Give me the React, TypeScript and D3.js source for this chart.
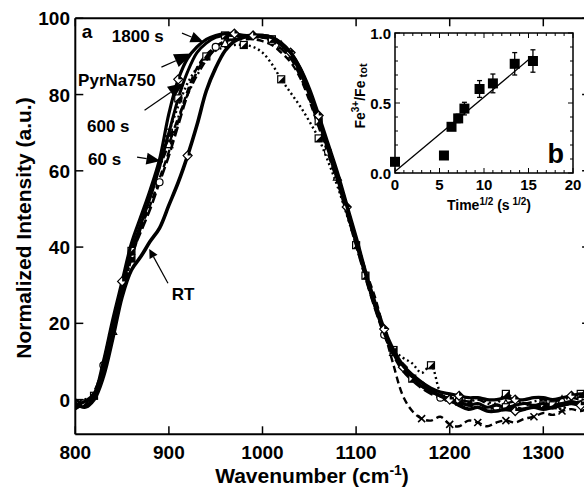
import React from "react";
import * as d3 from "d3";

// ---------- Data (main panel a) ----------
const WAVENUMBERS = [800, 810, 820, 830, 840, 850, 860, 870, 880, 890, 900, 910, 920, 930, 940, 950, 960, 970, 980, 990, 1000, 1010, 1020, 1030, 1040, 1050, 1060, 1070, 1080, 1090, 1100, 1110, 1120, 1130, 1140, 1150, 1160, 1170, 1180, 1190, 1200, 1210, 1220, 1230, 1240, 1250, 1260, 1270, 1280, 1290, 1300, 1310, 1320, 1330, 1340, 1350];

const S1800 = [-1.5, -0.5, 1.5, 10, 21, 31, 41, 48, 55, 63, 75, 84, 89.5, 92.5, 94.5, 95.5, 96, 96, 95.5, 95.5, 95.5, 95, 93.5, 91, 87, 81, 74, 66.5, 59, 50.5, 42, 33, 25, 18, 12.5, 8.5, 6, 4.5, 3, 2, 1.5, 1, 0.5, 0.5, 0, 0, 0.5, 0, 0, 0.5, 0.5, 0, 0.5, 1, 1.5, 1];
const PYRNA750 = [-2, -1, 1, 8, 19, 29, 39, 46, 53, 61, 70, 79, 86, 91, 93.5, 95, 95.5, 95.5, 95.5, 95.5, 95, 94.5, 93, 90.5, 86, 80, 73, 65.5, 58, 49.5, 41, 32.5, 24.5, 17.5, 12, 8, 5.5, 3.5, 2, 1, 0, -0.5, -1.5, -1, -2, -1.5, -2, -1.5, -1, -1.5, -1, -1.5, -1, -0.5, -1, -0.5];
const S600 = [0, -1, 2, 9, 20, 30, 38, 44, 50, 57, 64, 72, 80, 86, 90, 92.5, 94, 94.5, 95, 95.5, 95, 94, 92, 89.5, 85, 79, 72, 65, 57.5, 49, 40.5, 32, 24, 17, 11.5, 7.5, 5, 3, 1.5, 0.5, -0.5, -1, -1.5, -2, -2.5, -2, -2.5, -2, -2.5, -1.5, -2, -1.5, -1.5, -1, -0.5, 0];
const S60 = [-2.5, -1, 0.5, 7, 18, 28, 37, 45, 54, 61, 67, 74, 80, 85, 89, 92, 93.5, 94.5, 95, 95, 95, 94.5, 93, 90, 86, 80.5, 73.5, 66, 58.5, 50, 41.5, 33, 25, 18, 12.5, 8.5, 5.5, 3.5, 2, 1, 0.5, 0, -0.5, 0, -1, -1.5, -1, -0.5, -1, -0.5, 0, -0.5, 0, 0.5, 0, 0.5];
const DOTTED = [-1, 0, 1, 10, 20, 28, 37, 46, 54, 62, 70, 77, 83, 87, 90, 91.5, 92.5, 93, 93, 92.5, 91, 88, 84, 80.5, 77, 73, 68.5, 62.5, 56, 48.5, 40.5, 32, 24.5, 18, 13, 11, 9.5, 7, 9, 2, 0, -1, -0.5, 0.5, -0.5, -1, 1.5, 0, -1, -2, -1.5, -1, -2.5, 0, 1.5, 0.5];
const DASHED = [-2, -1.5, 0, 8, 19, 29, 38, 45, 51, 58, 65, 73, 81, 87, 90.5, 92.5, 94, 94.5, 94.5, 94.5, 94, 93, 91, 88.5, 84.5, 78.5, 71.5, 64.5, 57, 49, 42, 34, 27, 18, 9, 1, -3, -5, -5.5, -4.5, -6.5, -7, -5.5, -6, -7, -6, -5.5, -6, -5, -4.5, -3.5, -4, -3, -2.5, -3, -2];
const RT = [-1, -2, 0, 6, 16, 27, 34, 37.5, 41.5, 45, 51, 57, 64, 72, 81, 87, 91.5, 94, 95, 95.5, 95.5, 95, 93.5, 91, 87, 81.5, 74.5, 67, 59.5, 51, 42.5, 33.5, 25.5, 18.5, 13, 9, 6.5, 4.5, 2.5, 1, 0, -1.5, -2.5, -2, -3, -3, -2.5, -3, -2.5, -2, -2.5, -2, -1.5, -1, -1.5, -1];

const X_TICKS = [800, 900, 1000, 1100, 1200, 1300];
const Y_TICKS = [0, 20, 40, 60, 80, 100];

// ---------- Data (inset b) ----------
const SQRT_TIME = [0, 5.5, 6.35, 7.1, 7.8, 9.5, 11.0, 13.45, 15.5];
const FE3_RATIO = [0.08, 0.125, 0.33, 0.39, 0.46, 0.6, 0.64, 0.78, 0.8];
const FE3_ERR = [0, 0, 0.025, 0.03, 0.045, 0.06, 0.067, 0.08, 0.08];
const FIT_X = [0, 15.5];
const FIT_Y = [0.01, 0.835];
const INSET_X_TICKS = [0, 5, 10, 15, 20];
const INSET_Y_TICKS = [0, 0.5, 1.0];

type Series = { name: string; values: number[]; width: number; dash: string; marker: string; start: number; step: number };

const SERIES: Series[] = [
  { name: "dashed", values: DASHED, width: 2.4, dash: "7,4", marker: "x", start: 37, step: 3 },
  { name: "dotted", values: DOTTED, width: 2.4, dash: "2,3", marker: "halfsq", start: 2, step: 4 },
  { name: "60 s", values: S60, width: 2.4, dash: "8,3,2,3", marker: "tri", start: 4, step: 6 },
  { name: "600 s", values: S600, width: 2.6, dash: "10,4", marker: "circle", start: 3, step: 6 },
  { name: "PyrNa750", values: PYRNA750, width: 3, dash: "", marker: "halfsq", start: 1, step: 5 },
  { name: "1800 s", values: S1800, width: 3.2, dash: "", marker: "diamond", start: 5, step: 6 },
  { name: "RT", values: RT, width: 3.6, dash: "", marker: "diamond", start: 12, step: 7 },
];

// annotations: [label, textW, textV, fromW, fromV, tipW, tipV, headLen, headWidth]
const ANNOTATIONS: [string, number, number, number, number, number, number, number, number][] = [
  ["1800 s", 839, 93.8, 914, 96.1, 937, 93.8, 13, 11],
  ["PyrNa750", 803, 82.2, 892, 87.2, 925, 90.8, 18, 14],
  ["600 s", 812.5, 70.2, 874, 75.9, 916, 83, 16, 13],
  ["60 s", 813.6, 61.5, 866, 63.6, 891, 62.6, 14, 12],
  ["RT", 903, 26, 899, 30.5, 879, 39.5, 9, 9],
];

const FONT = "'Liberation Sans', Arial, Helvetica, sans-serif";

function Marker({ kind, cx, cy }: { kind: string; cx: number; cy: number }) {
  const s = 3.5;
  if (kind === "x") {
    return (
      <g stroke="#000" strokeWidth={1.6}>
        <line x1={cx - s} y1={cy - s} x2={cx + s} y2={cy + s} />
        <line x1={cx - s} y1={cy + s} x2={cx + s} y2={cy - s} />
      </g>
    );
  }
  if (kind === "halfsq") {
    return (
      <g>
        <rect x={cx - s} y={cy - s} width={2 * s} height={2 * s} fill="#fff" stroke="#000" strokeWidth={1.2} />
        <path d={`M${cx + s},${cy - s}L${cx + s},${cy + s}L${cx - s},${cy + s}Z`} fill="#000" />
      </g>
    );
  }
  if (kind === "circle") {
    return <circle cx={cx} cy={cy} r={s} fill="#fff" stroke="#000" strokeWidth={1.2} />;
  }
  if (kind === "tri") {
    return <path d={`M${cx},${cy - s - 0.5}L${cx + s + 0.5},${cy + s}L${cx - s - 0.5},${cy + s}Z`} fill="#fff" stroke="#000" strokeWidth={1.2} />;
  }
  return (
    <g>
      <path d={`M${cx},${cy - s - 1}L${cx + s + 1},${cy}L${cx},${cy + s + 1}L${cx - s - 1},${cy}Z`} fill="#fff" stroke="#000" strokeWidth={1.2} />
      <path d={`M${cx},${cy - s - 1}L${cx + s + 1},${cy}L${cx},${cy}Z`} fill="#000" />
    </g>
  );
}

export default function App() {
  const W = 584;
  const H = 488;
  const x = d3.scaleLinear().domain([800, 1350]).range([75.3, 590.1]);
  const y = d3.scaleLinear().domain([-9.1, 100]).range([434.3, 18.3]);
  const [x0, x1] = x.range();
  const [yb, yt] = y.range();

  const line = d3
    .line<number>()
    .x((_, i) => x(WAVENUMBERS[i]))
    .y((d) => y(d))
    .curve(d3.curveCatmullRom.alpha(0.5));

  const xi = d3.scaleLinear().domain([0, 20]).range([395, 573]);
  const yi = d3.scaleLinear().domain([0, 1]).range([173, 33]);
  const xiMinor = d3.range(0, 21, 1);
  const yiMinor = d3.range(0, 1.0001, 0.1);

  const tickLen = 8;

  return (
    <svg width={W} height={H} style={{ position: "fixed", left: 0, top: 0, background: "#fff" }} fontFamily={FONT}>
      <rect x={0} y={0} width={W} height={H} fill="#fff" />
      <defs>
        <clipPath id="plotclip">
          <rect x={x0} y={yt} width={x1 - x0} height={yb - yt} />
        </clipPath>
      </defs>

      <g clipPath="url(#plotclip)">
        {SERIES.map((s) => (
          <g key={s.name}>
            <path d={line(s.values) || ""} fill="none" stroke="#000" strokeWidth={s.width} strokeDasharray={s.dash || undefined} strokeLinejoin="round" />
            {s.values.map((v, i) =>
              i >= s.start && (i - s.start) % s.step === 0 ? (
                <Marker key={i} kind={s.marker} cx={x(WAVENUMBERS[i])} cy={y(v)} />
              ) : null
            )}
          </g>
        ))}
      </g>

      <g stroke="#000" strokeWidth={2} fill="none">
        <line x1={x0} y1={yt} x2={x1} y2={yt} />
        <line x1={x0} y1={yb} x2={x1} y2={yb} />
        <line x1={x0} y1={yt} x2={x0} y2={yb} />
        <line x1={x1} y1={yt} x2={x1} y2={yb} />
      </g>
      <g stroke="#000" strokeWidth={1.5}>
        {X_TICKS.map((t) => (
          <g key={t}>
            <line x1={x(t)} y1={yb} x2={x(t)} y2={yb - tickLen} />
            <line x1={x(t)} y1={yt} x2={x(t)} y2={yt + tickLen} />
          </g>
        ))}
        {Y_TICKS.map((t) => (
          <g key={t}>
            <line x1={x0} y1={y(t)} x2={x0 + tickLen} y2={y(t)} />
            <line x1={x1} y1={y(t)} x2={x1 - tickLen} y2={y(t)} />
          </g>
        ))}
      </g>
      <g fontSize={19} fontWeight="bold" fill="#000">
        {X_TICKS.map((t) => (
          <text key={t} x={x(t)} y={459} textAnchor="middle">
            {t}
          </text>
        ))}
        {Y_TICKS.map((t) => (
          <text key={t} x={70} y={y(t) + 7} textAnchor="end">
            {t}
          </text>
        ))}
      </g>
      <text x={312} y={483} fontSize={21} fontWeight="bold" textAnchor="middle">
        Wavenumber (cm
        <tspan dy={-8} fontSize={14}>-1</tspan>
        <tspan dy={8}>)</tspan>
      </text>
      <text transform={`translate(31,228) rotate(-90)`} fontSize={21} fontWeight="bold" textAnchor="middle">
        Normalized Intensity (a.u.)
      </text>

      <text x={x(807)} y={y(94.8)} fontSize={19} fontWeight="bold">a</text>

      {ANNOTATIONS.map(([label, tw, tv, fw, fv, pw, pv, hl, hw]) => {
        const sx = x(fw), sy = y(fv), tx = x(pw), ty = y(pv);
        const len = Math.hypot(tx - sx, ty - sy);
        const ux = (tx - sx) / len, uy = (ty - sy) / len;
        const bx = tx - ux * hl, by = ty - uy * hl;
        const nx = -uy, ny = ux;
        return (
          <g key={label}>
            <text x={x(tw)} y={y(tv)} fontSize={17} fontWeight="bold">{label}</text>
            <line x1={sx} y1={sy} x2={bx} y2={by} stroke="#000" strokeWidth={1.2} />
            <path d={`M${tx},${ty}L${bx + (nx * hw) / 2},${by + (ny * hw) / 2}L${bx - (nx * hw) / 2},${by - (ny * hw) / 2}Z`} fill="#000" />
          </g>
        );
      })}

      <rect x={xi(0)} y={yi(1)} width={xi(20) - xi(0)} height={yi(0) - yi(1)} fill="#fff" stroke="#000" strokeWidth={1.5} />
      <g stroke="#000" strokeWidth={1}>
        {xiMinor.map((t) => {
          const L = t % 5 === 0 ? 5 : 3;
          return (
            <g key={t}>
              <line x1={xi(t)} y1={yi(0)} x2={xi(t)} y2={yi(0) - L} />
              <line x1={xi(t)} y1={yi(1)} x2={xi(t)} y2={yi(1) + L} />
            </g>
          );
        })}
        {yiMinor.map((t, k) => {
          const L = k % 5 === 0 ? 5 : 3;
          return (
            <g key={k}>
              <line x1={xi(0)} y1={yi(t)} x2={xi(0) + L} y2={yi(t)} />
              <line x1={xi(20)} y1={yi(t)} x2={xi(20) - L} y2={yi(t)} />
            </g>
          );
        })}
      </g>
      <line x1={xi(FIT_X[0])} y1={yi(FIT_Y[0])} x2={xi(FIT_X[1])} y2={yi(FIT_Y[1])} stroke="#000" strokeWidth={1.3} />
      {SQRT_TIME.map((t, i) => {
        const cx = xi(t), cy = yi(FE3_RATIO[i]);
        const e = FE3_ERR[i];
        return (
          <g key={i}>
            {e > 0 && (
              <g stroke="#000" strokeWidth={1.3}>
                <line x1={cx} y1={yi(FE3_RATIO[i] + e)} x2={cx} y2={yi(FE3_RATIO[i] - e)} />
                <line x1={cx - 2.5} y1={yi(FE3_RATIO[i] + e)} x2={cx + 2.5} y2={yi(FE3_RATIO[i] + e)} />
                <line x1={cx - 2.5} y1={yi(FE3_RATIO[i] - e)} x2={cx + 2.5} y2={yi(FE3_RATIO[i] - e)} />
              </g>
            )}
            <rect x={cx - 5} y={cy - 5} width={10} height={10} fill="#000" />
          </g>
        );
      })}
      <g fontSize={15} fontWeight="bold">
        {INSET_X_TICKS.map((t) => (
          <text key={t} x={xi(t)} y={190} textAnchor="middle">{t}</text>
        ))}
        {INSET_Y_TICKS.map((t) => (
          <text key={t} x={391} y={yi(t) + 5.5} textAnchor="end">{t.toFixed(1)}</text>
        ))}
      </g>
      <text x={xi(19)} y={163} fontSize={27} fontWeight="bold" textAnchor="end">b</text>
      <text x={489} y={210} fontSize={14} fontWeight="bold" textAnchor="middle">
        Time<tspan dy={-5} fontSize={10}>1/2</tspan>
        <tspan dy={5}>  (s</tspan>
        <tspan dy={-5} fontSize={10}> 1/2</tspan>
        <tspan dy={5}>)</tspan>
      </text>
      <text transform={`translate(365,96) rotate(-90)`} fontSize={14} fontWeight="bold" textAnchor="middle">
        Fe<tspan dy={-6} fontSize={10}>3+</tspan>
        <tspan dy={6}>/Fe</tspan>
        <tspan dy={2} fontSize={11}> tot</tspan>
      </text>
    </svg>
  );
}
